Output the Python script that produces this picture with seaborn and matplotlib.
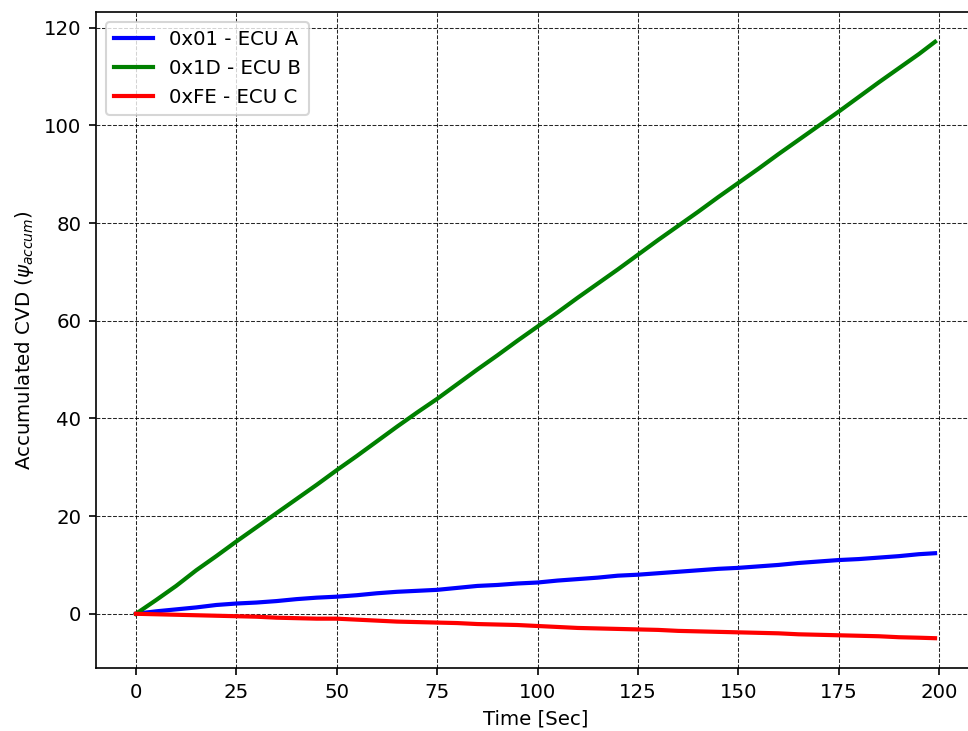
import numpy as np
import pandas as pd
import matplotlib
matplotlib.use("Agg")
import matplotlib.pyplot as plt
import seaborn as sns

time = [0, 5, 10, 15, 20, 25, 30, 35, 40, 45, 50, 55, 60, 65, 70, 75, 80, 85, 90, 95,
        100, 105, 110, 115, 120, 125, 130, 135, 140, 145, 150, 155, 160, 165, 170, 175,
        180, 185, 190, 195, 199]

ecu_a = [0.0, 0.5, 0.9, 1.3, 1.8, 2.1, 2.3, 2.6, 3.0, 3.3, 3.5, 3.8, 4.2, 4.5, 4.7, 4.9,
         5.3, 5.7, 5.9, 6.2, 6.4, 6.8, 7.1, 7.4, 7.8, 8.0, 8.3, 8.6, 8.9, 9.2, 9.4, 9.7,
         10.0, 10.4, 10.7, 11.0, 11.2, 11.5, 11.8, 12.2, 12.4]

ecu_b = [0.0, 2.8, 5.7, 8.9, 11.8, 14.8, 17.7, 20.6, 23.5, 26.4, 29.4, 32.3, 35.3, 38.3,
         41.2, 44.0, 47.0, 50.0, 52.9, 55.9, 58.8, 61.7, 64.7, 67.6, 70.5, 73.5, 76.5,
         79.4, 82.3, 85.3, 88.2, 91.1, 94.1, 97.0, 99.9, 102.8, 105.8, 108.8, 111.7,
         114.6, 117.1]

ecu_c = [0.0, -0.1, -0.2, -0.3, -0.4, -0.5, -0.6, -0.8, -0.9, -1.0, -1.0, -1.2, -1.4,
         -1.6, -1.7, -1.8, -1.9, -2.1, -2.2, -2.3, -2.5, -2.7, -2.9, -3.0, -3.1, -3.2,
         -3.3, -3.5, -3.6, -3.7, -3.8, -3.9, -4.0, -4.2, -4.3, -4.4, -4.5, -4.6, -4.8,
         -4.9, -5.0]

labels = ["0x01 - ECU A", "0x1D - ECU B", "0xFE - ECU C"]
colors = ["blue", "green", "red"]

plt.rcParams["font.size"] = 9.5

df = pd.concat([
    pd.DataFrame({"t": time, "v": vals, "ecu": lab})
    for vals, lab in zip([ecu_a, ecu_b, ecu_c], labels)
], ignore_index=True)

fig = plt.figure(figsize=(968 / 150, 731 / 150), dpi=150)
ax = fig.add_axes([96 / 968, (731 - 668) / 731, 879 / 968, 656 / 731])

sns.lineplot(data=df, x="t", y="v", hue="ecu", hue_order=labels,
             palette=dict(zip(labels, colors)), linewidth=2, ax=ax)

ax.grid(True, linestyle="--", color="black", linewidth=0.5, alpha=0.85)
ax.set_axisbelow(True)
ax.set_xlabel("Time [Sec]")
ax.set_ylabel(r"Accumulated CVD ($\psi_{accum}$)")
ax.set_xticks([0, 25, 50, 75, 100, 125, 150, 175, 200])
ax.set_yticks([0, 20, 40, 60, 80, 100, 120])
ax.set_xlim(-9.95, 208.95)
ax.set_ylim(-11.1, 123.2)
leg = ax.legend(loc="upper left")
leg.set_title(None)

fig.savefig("out.png", dpi=150)
